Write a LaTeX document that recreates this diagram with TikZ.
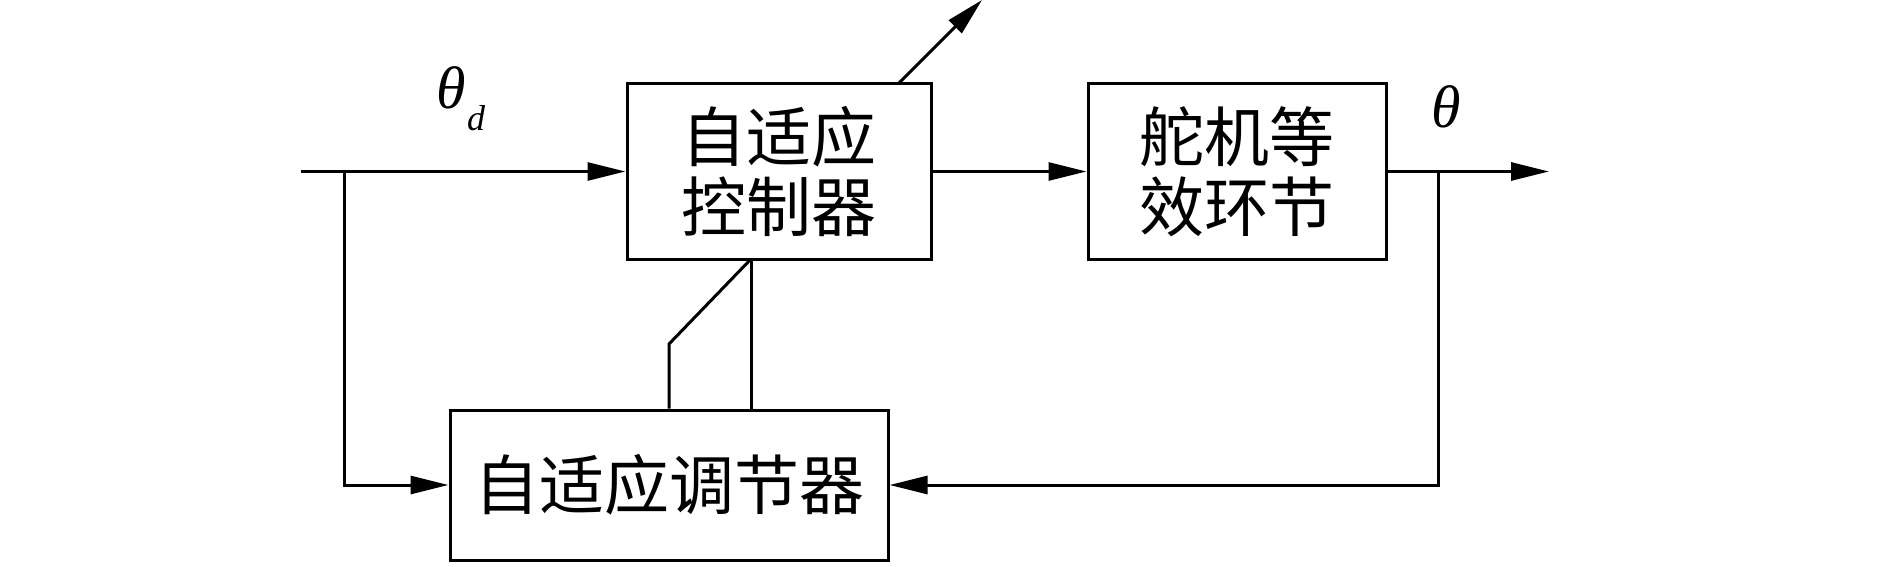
\documentclass[tikz,border=0pt]{standalone}
\usepackage{fontspec}
\usetikzlibrary{arrows.meta,calc}
\newfontfamily\cjk{Noto Sans CJK SC}
\newfontfamily\tms{Liberation Serif}
\begin{document}
\begin{tikzpicture}[x=1pt,y=-1pt,
  blk/.style={draw,line width=3pt,inner sep=0pt,align=center,
    font=\cjk\fontsize{65}{70}\selectfont},
  ln/.style={line width=3pt},
  arr/.style={ln,-{Triangle[length=38pt,width=18pt]}},
  lbl/.style={inner sep=0pt,font=\tms\itshape\fontsize{60}{60}\selectfont}]
\useasboundingbox (0,0) rectangle (1890,567);
\node[blk,minimum width=304pt,minimum height=175pt] (ctrl) at (779,171.5) {自适应\\控制器};
\node[blk,minimum width=298pt,minimum height=175pt] (plant) at (1237,171.5) {舵机等\\效环节};
\node[blk,minimum width=438pt,minimum height=150pt] (adj) at (669,485) {自适应调节器};
\coordinate (in) at (301,171.5);
\coordinate (br) at (344,171.5);
\coordinate (out) at (1549,171.5);
\coordinate (fb) at (1438,171.5);
\coordinate (ta) at (898,84);
\coordinate (tb) at (982,0);
\coordinate (ba) at (751,259);
\coordinate (bb) at (669,344);
\node[lbl] (thd) at (451,88) {θ};
\node[lbl,font=\tms\itshape\fontsize{36}{36}\selectfont] (dsub) at (476,118) {d};
\node[lbl] (tho) at (1446,107) {θ};
\draw[arr] (in) -- (ctrl.west);
\draw[arr] (br) |- (adj.west);
\draw[arr] (ctrl.east) -- (plant.west);
\draw[arr] (plant.east) -- (out);
\draw[arr] (fb) |- (adj.east);
\draw[arr] (ta) -- (tb);
\draw[ln] (ba) -- (ba |- adj.north);
\draw[ln] (ba) -- (bb) -- (bb |- adj.north);
\end{tikzpicture}
\end{document}
